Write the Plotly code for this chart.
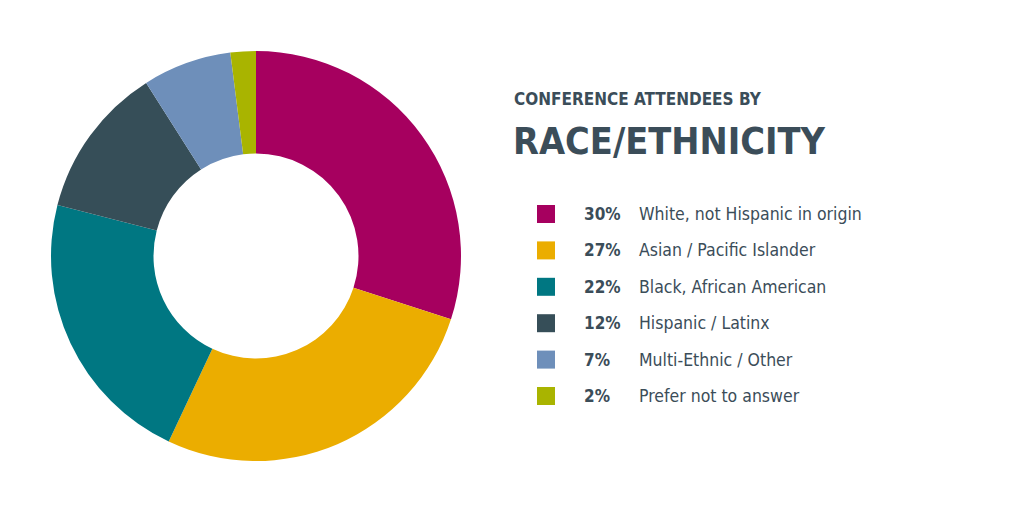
import plotly.graph_objects as go

# chart data
categories = ["White, not Hispanic in origin", "Asian / Pacific Islander",
              "Black, African American", "Hispanic / Latinx",
              "Multi-Ethnic / Other", "Prefer not to answer"]
values = [30, 27, 22, 12, 7, 2]
colors = ["#A6005F", "#EBAD00", "#007782", "#364E58", "#6E8FBA", "#A9B400"]

title_small = "CONFERENCE ATTENDEES BY"
title_big = "RACE/ETHNICITY"

TEXT = "#3B4D59"
FONT = "DejaVu Sans Condensed, sans-serif"
W, H = 1024, 512
OFF = 8  # page body margin


def px(x):
    return (x - OFF) / W


def py(y):
    return 1 - (y - OFF) / H


fig = go.Figure(go.Pie(
    labels=categories,
    values=values,
    marker=dict(colors=colors, line=dict(width=0)),
    hole=0.5,
    sort=False,
    direction="clockwise",
    rotation=0,
    textinfo="none",
    hoverinfo="label+percent",
    showlegend=False,
    domain=dict(x=[px(51), px(461)], y=[py(461), py(51)]),
))

# custom legend on the right
row0, step = 214, 36.4
shapes = []
annotations = [
    dict(x=px(512), y=py(99), text="<b>" + title_small + "</b>",
         font=dict(size=17, color=TEXT, family=FONT)),
    dict(x=px(511), y=py(141), text="<b>" + title_big + "</b>",
         font=dict(size=37.5, color=TEXT, family=FONT)),
]
for i, (cat, val, col) in enumerate(zip(categories, values, colors)):
    yc = row0 + i * step
    shapes.append(dict(type="rect", xref="paper", yref="paper",
                       x0=px(537), x1=px(555),
                       y0=py(yc + 9), y1=py(yc - 9),
                       fillcolor=col, line=dict(width=0)))
    annotations.append(dict(x=px(582), y=py(yc), text="<b>%d%%</b>" % val,
                            font=dict(size=17, color=TEXT, family=FONT)))
    annotations.append(dict(x=px(637), y=py(yc), text=cat,
                            font=dict(size=17.5, color=TEXT, family=FONT)))

for a in annotations:
    a.update(xref="paper", yref="paper", xanchor="left", yanchor="middle",
             showarrow=False)

fig.update_layout(
    width=W, height=H,
    margin=dict(l=0, r=0, t=0, b=0),
    paper_bgcolor="white",
    plot_bgcolor="white",
    shapes=shapes,
    annotations=annotations,
)

fig.write_html("out.html")
